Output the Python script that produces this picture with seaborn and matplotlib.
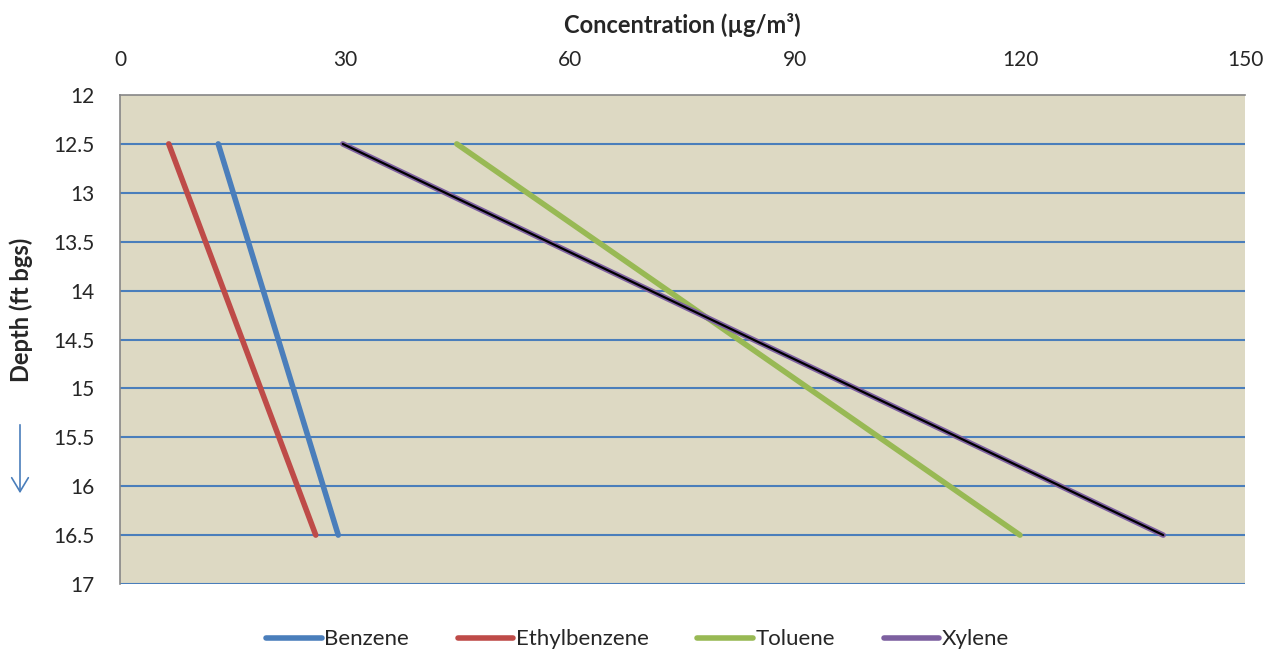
import matplotlib
matplotlib.use("Agg")
import matplotlib.pyplot as plt
import seaborn as sns
import pandas as pd

depths = [12.5, 16.5]
benzene = [13.1, 29.1]
ethylbenzene = [6.5, 26.1]
toluene = [44.9, 120.0]
xylene = [29.7, 139.1]
series_names = ["Benzene", "Ethylbenzene", "Toluene", "Xylene"]
x_ticks = [0, 30, 60, 90, 120, 150]
y_ticks = [12, 12.5, 13, 13.5, 14, 14.5, 15, 15.5, 16, 16.5, 17]

sns.set_theme(style="white")
plt.rcParams['font.family'] = ['Lato', 'DejaVu Sans']

rows = []
for name, vals in zip(series_names, [benzene, ethylbenzene, toluene, xylene]):
    for d, v in zip(depths, vals):
        rows.append({"Series": name, "Depth": d, "Conc": v})
df = pd.DataFrame(rows)

palette = {"Benzene": "#4A7EBB", "Ethylbenzene": "#BE4B48",
           "Toluene": "#98B954", "Xylene": "#7D60A0"}

fig = plt.figure(figsize=(12.76, 6.53), dpi=100)
ax = fig.add_axes([120/1276, 1 - 584/653, (1245-120)/1276, (584-95)/653])
ax.set_facecolor("#DDD9C3")

sns.lineplot(data=df, x="Conc", y="Depth", hue="Series", palette=palette,
             sort=False, linewidth=4, ax=ax, legend=True,
             solid_capstyle="round", estimator=None)
xy = df[df.Series == "Xylene"]
sns.lineplot(x=xy.Conc.values, y=xy.Depth.values, color="black", linewidth=1.6,
             sort=False, ax=ax, legend=False, estimator=None)

ax.set_xlim(0, 150)
ax.set_ylim(17, 12)
ax.set_xticks(x_ticks)
ax.set_yticks(y_ticks)
ax.set_yticklabels([f"{t:g}" for t in y_ticks])
ax.xaxis.tick_top()
ax.xaxis.set_label_position("top")
ax.tick_params(axis="both", length=0, labelsize=15)
ax.tick_params(axis="y", pad=18)
ax.tick_params(axis="x", pad=18)
ax.set_xlabel("Concentration (µg/m³)", fontsize=17, fontweight="bold", labelpad=12)
ax.set_ylabel("Depth (ft bgs)", fontsize=17, fontweight="bold")
ax.yaxis.set_label_coords(-0.077, 0.56)

for y in y_ticks[1:]:
    ax.axhline(y, color="#4A7EBB", linewidth=1.5, zorder=0.5)

for s in ["right", "bottom"]:
    ax.spines[s].set_visible(False)
for s in ["left", "top"]:
    ax.spines[s].set_color("#868686")
    ax.spines[s].set_linewidth(1.2)

handles, labels = ax.get_legend_handles_labels()
leg = ax.legend(handles[:4], labels[:4], loc="upper center",
                bbox_to_anchor=(0.46, -0.052), ncol=4, frameon=False,
                fontsize=16, handlelength=2.5, handletextpad=0.1, columnspacing=2.2)

fig.patches.append(matplotlib.patches.FancyArrowPatch(
    (20/1276, 1 - 422/653), (20/1276, 1 - 496/653), transform=fig.transFigure,
    arrowstyle="->,head_length=10,head_width=6", color="#4A7EBB", linewidth=1.2))

fig.savefig("out.png", dpi=100)
